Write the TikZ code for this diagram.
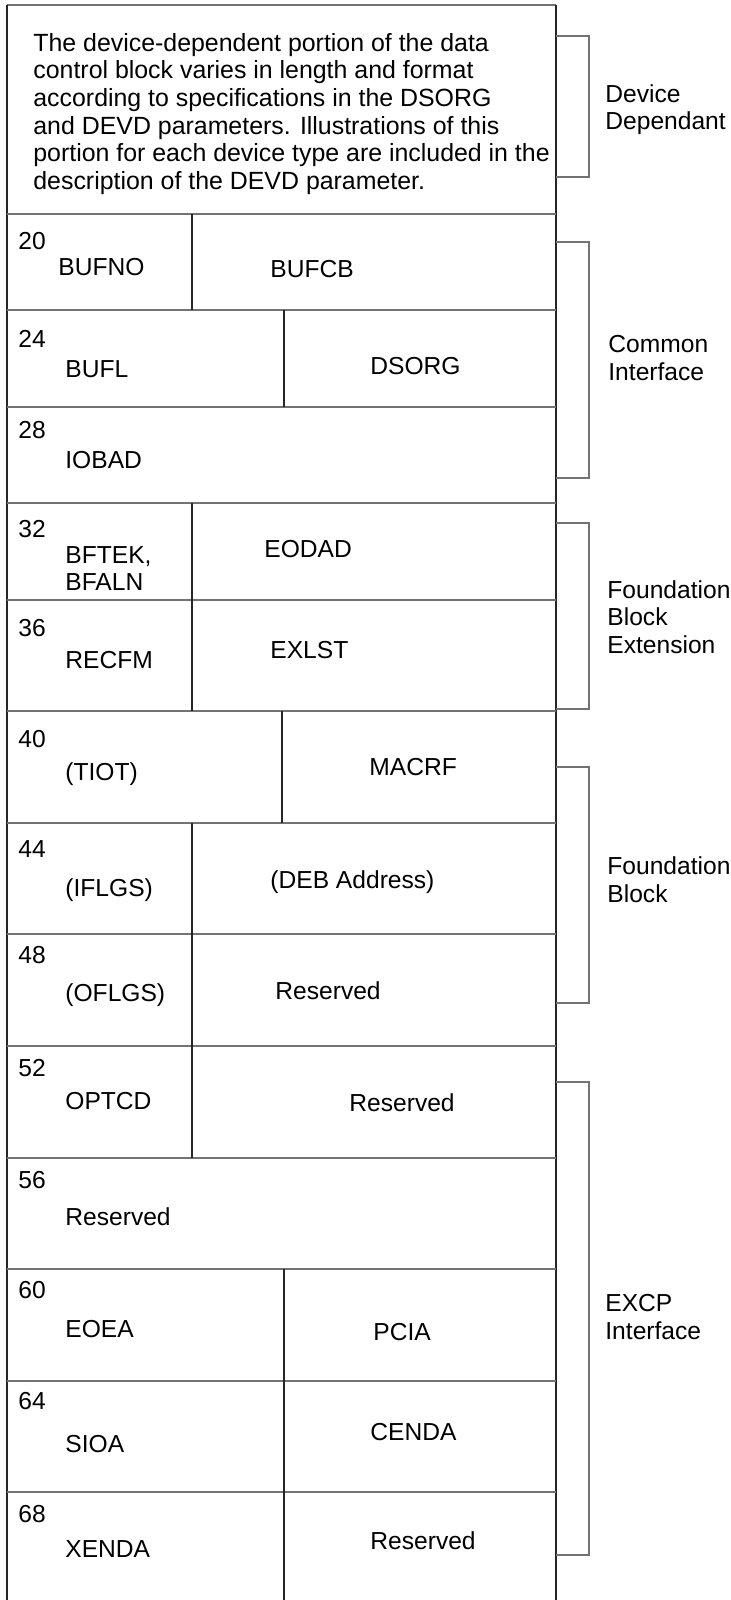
\documentclass[tikz,border=0pt]{standalone}
\usepackage{fontspec}
\setmainfont{Liberation Sans}
\begin{document}
\begin{tikzpicture}[x=0.5pt,y=-0.5pt,
    hline/.style={draw=black!55,line width=0.8pt},
    vline/.style={draw=black!85,line width=0.6pt},
    brace/.style={draw=black!55,line width=0.7pt},
    fld/.style={anchor=base west,inner sep=0pt,font=\fontsize{12.3}{13.75}\selectfont},
    side/.style={fld,align=left}]
  \useasboundingbox (0,0) rectangle (730,1600);
  % 外框
  \draw[hline] (7,5) -- (556,5);
  \draw[vline] (7,5) -- (7,1600);
  \draw[vline] (556,5) -- (556,1600);
  % 横线
  \foreach \y in {214,310,407,503,600,711,823,934,1046,1158,1269,1381,1492}
    \draw[hline] (7,\y) -- (556,\y);
  % 竖线
  \draw[vline] (192,214) -- (192,310);
  \draw[vline] (284,310) -- (284,407);
  \draw[vline] (192,503) -- (192,711);
  \draw[vline] (282,711) -- (282,823);
  \draw[vline] (192,823) -- (192,1158);
  \draw[vline] (284,1269) -- (284,1600);
  % 说明文字 (基线取最后一行)
  \node[side,font=\fontsize{12.45}{13.75}\selectfont] (devtext) at (33,189)
    {The device-dependent portion of the data\\
    control block varies in length and format\\
    according to specifications in the DSORG\\
    and DEVD parameters. Illustrations of this\\
    portion for each device type are included in the\\
    description of the DEVD parameter.};
  % 偏移量
  \node[fld] (n20) at (18,249) {20};
  \node[fld] (n24) at (18,347) {24};
  \node[fld] (n28) at (18,438) {28};
  \node[fld] (n32) at (18,537) {32};
  \node[fld] (n36) at (18,636) {36};
  \node[fld] (n40) at (18,747) {40};
  \node[fld] (n44) at (18,857) {44};
  \node[fld] (n48) at (18,963) {48};
  \node[fld] (n52) at (18,1076) {52};
  \node[fld] (n56) at (18,1188) {56};
  \node[fld] (n60) at (18,1298) {60};
  \node[fld] (n64) at (18,1409) {64};
  \node[fld] (n68) at (18,1522) {68};
  % 字段名
  \node[fld] (bufno) at (58,275) {BUFNO};
  \node[fld] (bufcb) at (270,277) {BUFCB};
  \node[fld] (bufl) at (65,377) {BUFL};
  \node[fld] (dsorg) at (370,374) {DSORG};
  \node[fld] (iobad) at (65,468) {IOBAD};
  \node[fld] (bftek) at (65,563) {BFTEK,};
  \node[fld] (bfaln) at (65,590) {BFALN};
  \node[fld] (eodad) at (264,557) {EODAD};
  \node[fld] (recfm) at (65,668) {RECFM};
  \node[fld] (exlst) at (270,658) {EXLST};
  \node[fld] (tiot) at (65,780) {(TIOT)};
  \node[fld] (macrf) at (369,775) {MACRF};
  \node[fld] (iflgs) at (65,896) {(IFLGS)};
  \node[fld] (deb) at (270,888) {(DEB Address)};
  \node[fld] (oflgs) at (65,1001) {(OFLGS)};
  \node[fld] (resa) at (275,999) {Reserved};
  \node[fld] (optcd) at (65,1109) {OPTCD};
  \node[fld] (resb) at (349,1111) {Reserved};
  \node[fld] (resc) at (65,1225) {Reserved};
  \node[fld] (eoea) at (65,1337) {EOEA};
  \node[fld] (pcia) at (373,1340) {PCIA};
  \node[fld] (sioa) at (65,1452) {SIOA};
  \node[fld] (cenda) at (370,1440) {CENDA};
  \node[fld] (xenda) at (65,1557) {XENDA};
  \node[fld] (resd) at (370,1549) {Reserved};
  % 括号
  \draw[brace] (556,36) -| (589,177) -- (556,177);
  \draw[brace] (556,242) -| (589,478) -- (556,478);
  \draw[brace] (556,523) -| (589,709) -- (556,709);
  \draw[brace] (556,767) -| (589,1003) -- (556,1003);
  \draw[brace] (556,1082) -| (589,1555) -- (556,1555);
  % 分组名称
  \node[side] (devdep) at (605,130) {Device\\Dependant};
  \node[side] (common) at (608,380) {Common\\Interface};
  \node[side] (fbext) at (607,653) {Foundation\\Block\\Extension};
  \node[side] (fblock) at (607,902) {Foundation\\Block};
  \node[side] (excp) at (605,1339) {EXCP\\Interface};
\end{tikzpicture}
\end{document}
